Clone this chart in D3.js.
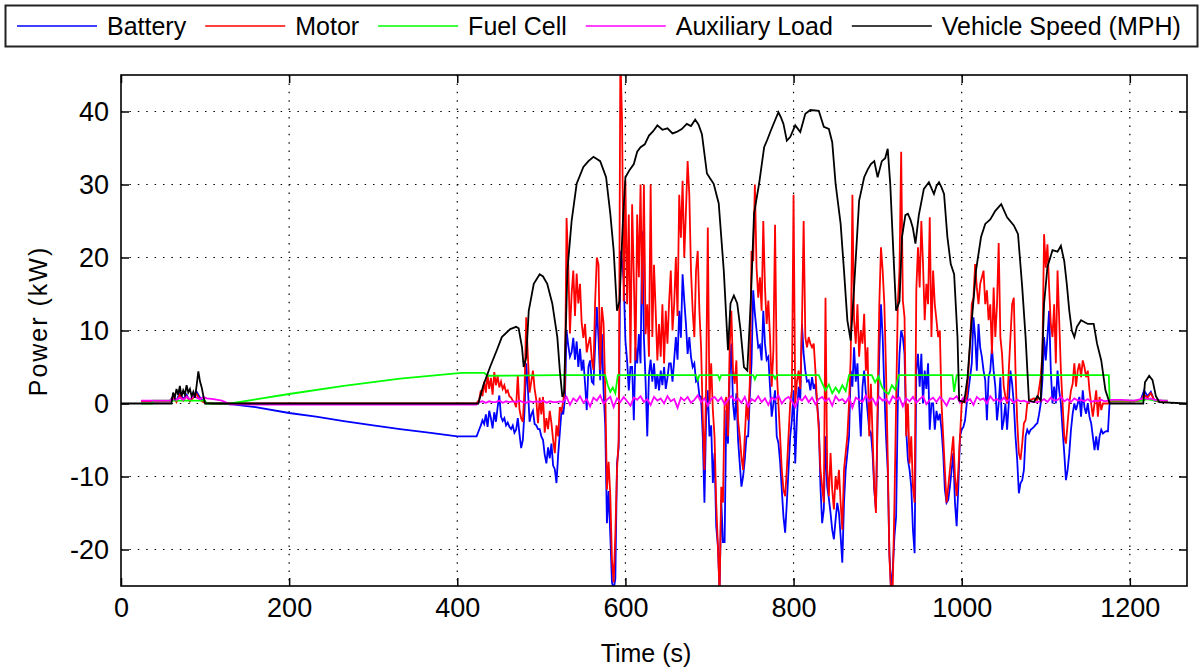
<!DOCTYPE html>
<html>
<head>
<meta charset="utf-8" />
<script src="https://cdn.jsdelivr.net/npm/d3@7"></script>
<style>
  body { margin: 0; background: #fff; }
  text { font-family: "Liberation Sans", Arial, Helvetica, sans-serif; fill: #000; }
  .grid line { stroke: #000; stroke-width: 1.2; stroke-dasharray: 1.5,6.9; }
  .axis line { stroke: #000; stroke-width: 1.5; }
  .axis path { display: none; }
  .series { fill: none; stroke-width: 1.8; stroke-linejoin: miter; }
</style>
</head>
<body>
<script>
// ---- data (kW / mph against time in s) ----
var seriesNames = ["Battery", "Motor", "Fuel Cell", "Auxiliary Load", "Vehicle Speed (MPH)"];
var seriesColors = ["#0000ff", "#ff0000", "#00ff00", "#ff00ff", "#000000"];
var xTicks = [0, 200, 400, 600, 800, 1000, 1200];
var yTicks = [-20, -10, 0, 10, 20, 30, 40];

// start-up section
var earlyTime = [24, 38, 58, 62, 66, 70, 74, 78, 82, 86, 90, 94, 98, 102, 110, 120, 130];
var earlyMotor = [0.3, 0.3, 0.3, 0.9, 0.2, 1.2, 0.4, 1.0, 0.3, 0.8, 1.3, 0.5, 0.2, 0.1, 0.0, 0.0, 0.0];
var earlyBattery = [0.3, 0.3, 0.3, 1.0, 0.4, 1.5, 0.6, 1.2, 0.3, 1.0, 1.6, 0.8, 0.3, 0.1, 0.0, 0.0, -0.1];
var earlyAux = [0.4, 0.4, 0.4, 0.6, 0.5, 0.8, 0.5, 0.9, 0.6, 1.0, 0.8, 0.6, 0.9, 0.7, 0.6, 0.4, -0.1];

// idle section, battery charging the fuel cell ramp
var idleTime = [160, 200, 232, 265, 300, 332, 366, 400, 423];
var idleMotor = [0, 0, 0, 0, 0, 0, 0, 0, 0];
var idleBattery = [-0.5, -1.3, -1.8, -2.4, -3.0, -3.5, -4.0, -4.5, -4.5];
var idleAux = [-0.15, -0.15, -0.15, -0.15, -0.15, -0.15, -0.15, -0.15, -0.15];

// driving section, every 2 s from 426 s
var activeMotor = [
  0.5, 1.8, 1.0, 3.0, 1.5, 4.0, 2.0, 3.5, 1.2, 4.3,          // 426
  2.5, 3.8, 2.2, 3.0, 2.0, 2.5, 1.5, 1.8, 1.0, 0.8,          // 446
  0.4, 0.2, -0.5, 3.9, -0.8, -2.0, -2.5, 2.0, 11.8, 6.4,     // 466
  1.5, 3.0, 4.5, 2.0, 0.5, -2.7, 0.8, -1.5, 0.9, -4.0,       // 486
  -2.0, -3.5, -1.0, -2.7, -5.0, -6.8, -3.0, -4.5, -0.5, -1.0, // 506
  0.3, 2.0, 25.4, 19.0, 9.6, 15.0, 18.2, 12.0, 17.8, 13.7,   // 526
  16.4, 11.0, 9.0, 10.9, 7.0, 8.2, 9.1, 6.0, 4.6, 14.0,      // 546
  20.0, 19.0, 4.6,                                           // 566
  13.2, 11.0, 2.0, -11.8, -8.0, -12.5, -21.4, -24.5, -18.0, -9.0, // 572
  -5.0, 48, 38.6, 14.0, 30.5, 13.6, 25.9, 5.5, 27.3, 17.3,   // 592
  5.9, 25.9, 17.3, 30.0, 13.6, 30.0, 9.5, 13.6, 6.4, 30.0,   // 612
  9.1, 19.0, 12.7, 5.9, 10.9, 6.4, 13.6, 5.5, 12.7, 8.2,     // 632
  14.0, 18.2, 10.0, 13.6, 20.0, 12.0, 28.6, 22.7, 30.5, 20.0, // 652
  26.4, 33.2, 28.6, 18.2, 12.7, 9.1, 18.2, 20.9, 12.7, 7.7,  // 672
  -1.8, -9.1, 2.7, 24.1, 0.0, 5.5, -0.9, -4.5, -13.6, -19.5, // 692
  -26, -11.4, -13.6, 0.0, 0.9, -4.5, 7.7, 12.7, 4.5, 2.7,    // 712
  5.9, -2.3, -4.5, -7.3, -9.1, -4.5, 0.0, -2.3, 3.0, 20.9,   // 732
  19.5, 30.0, 18.6, 14.5, 17.3, 12.7, 25.0, 15.9, 10.9, 14.1, // 752
  9.1, 2.3, 7.3, 24.5, 4.5, 0.0, -4.5, -9.1, -11.8, -12.7,   // 772
  -9.1, -4.5, 0.0, 1.8, 28.6,                                // 792
  0.0, 3.0, 4.5, 2.0, 10.9, 25.0, 9.1, 7.7, 9.1, 8.2,        // 802
  7.7, 8.2, 4.5, 0.0, -3.6, -9.1, -11.4, -13.6, 14.5, -9.1,  // 822
  -12.7, -6.8, -11.8, -14.5, -10.0, -11.8, -9.1, -13.6, -17.3, -9.1, // 842
  -6.8, -4.5, 0.0, 6.4, 28.6, 11.4, 8.2, 13.6, 6.4, 10.0,    // 862
  8.2, 12.3, 4.5, 7.7, -4.5, 2.7, -4.5, -11.4, -15.0, 0.0,   // 882
  13.6, 21.4, 18.2, 13.6, 4.5, -7.3, -20.9, -26, -25, -13.6, // 902
  0.0, 13.6, 18.2, 34.5, 14.1, 11.8, -4.5, 0.0, -8.2, -4.5,  // 922
  -11.4, -13.6, 15.5, 21.4, 15.9, 25.0, 19.1, 11.4, 16.4, 13.6, // 942
  25.5, 9.1, 18.2, 13.6, 11.4, 9.1, 10.0, 0.0, -4.5, -9.1,   // 962
  -13.6, -11.4, -9.1, -6.8, -4.5, -10.0, -12.7, -9.1, -4.5, 0.0, // 982
  0.5, 0.2, 0.9, 4.5, 8.2, 13.6, 14.5, 19.1, 15.9, 13.6,     // 1002
  16.4, 17.3, 18.2, 13.6, 15.5, 11.4, 13.6,                  // 1022
  6.8, 15.9, 9.1, 13.6, 22.0, 9.1, 6.8, 2.3, 0.9, 0.0,       // 1036
  4.5, 9.1, 13.6, 14.5, 4.5, -2.3, -6.8, -7.7, -5.5, -2.7,   // 1056
  -2.3, 0.0, 0.2, 0.5, 0.6, 0.7, 0.5, 0.5, 2.0, 3.6,         // 1076
  6.8, 23.2, 18.6, 21.8, 15.9, 10.9, 9.1, 13.6, 5.5, 18.2,   // 1096
  11.4, 4.5, 0.0, -4.5, -5.5, -2.7, 0.0, 1.8, 2.7, 5.5,      // 1116
  2.3, 4.5, 5.5, 3.6, 5.9, 5.0, 3.6, 4.5, 1.8, 0.0,          // 1136
  -1.8, 0.0, 1.8, -1.8, 0.9, -0.9, 0.0, 0.0, 0.0, 0.0,       // 1156
  0.3                                                        // 1176
];
var activeBattery = [
  -3.6, -3.0, -2.3, -2.8, -1.5, -3.2, -1.0, -2.0, -3.4, -1.2, // 426
  -2.5, -0.5, 1.1, -1.8, -2.4, -2.0, -3.0, -2.6, -3.2, -3.5,  // 446
  -3.0, -4.0, -3.6, -2.0, -4.2, -6.1, -5.0, -1.0, 5.5, 2.0,   // 466
  -2.5, -1.5, -1.0, -2.8, -3.0, -3.5, -3.5, -4.5, -5.0, -7.0, // 486
  -8.2, -6.0, -7.5, -5.5, -8.5, -9.0, -10.9, -7.0, -4.0, -0.9, // 506
  -1.5, 0.5, 10.0, 8.0, 6.4, 7.0, 9.0, 6.0, 8.5, 5.0,         // 526
  7.5, 4.5, 6.0, 2.7, -0.9, 5.0, 5.9, 3.0, 2.7, 8.0,          // 546
  13.2, 9.0, 3.2,                                             // 566
  9.5, 1.8, -3.0, -16.4, -12.0, -18.0, -24.5, -25.5, -24.0, -8.2, // 572
  -6.0, 20.9, 19.5, 16.8, 8.6, 5.9, 1.8, 5.0, 5.0, -2.3,      // 592
  7.7, 5.5, 9.5, 5.5, 23.6, 9.0, 3.0, -4.5, 4.0, 6.0,         // 612
  3.0, 5.5, 2.0, 4.0, 1.8, 4.5, 2.5, 5.0, 2.0, 3.5,           // 632
  5.5, 5.5, 3.0, 6.0, 9.1, 6.0, 12.7, 9.0, 17.7, 14.1,        // 652
  10.9, 6.8, 9.1, 6.4, 5.0, 5.5, 3.0, 3.2, 1.0, 0.9,          // 672
  -4.5, -13.6, -1.8, 1.8, -4.5, -3.0, -10.9, -6.8, -16.8, -19.5, // 692
  -25.5, -13.2, -19.0, -19.0, -0.9, -5.5, 3.6, 8.2, 0.0, -2.3, // 712
  1.4, -5.0, -8.2, -11.4, -10.0, -7.7, -4.5, -4.5, 1.0, 5.5,  // 732
  15.5, 12.3, 10.0, 7.7, 8.0, 5.9, 12.7, 8.2, 6.0, 6.4,       // 752
  2.3, -1.8, 0.0, 1.8, -4.5, -5.4, -8.0, -11.8, -15.5, -17.7, // 772
  -13.6, -9.1, -4.5, -2.3, 1.8,                               // 792
  -8.2, -2.0, 2.3, 0.5, 10.9, 6.8, 4.5, 3.0, 3.2, 1.8,        // 802
  3.6, 2.0, 2.7, 0.0, -2.7, -11.4, -16.4, -14.5, -4.5, -11.4, // 822
  -13.0, -15.0, -17.3, -18.6, -15.9, -13.6, -15.0, -18.2, -21.8, -13.6, // 842
  -9.1, -6.8, -4.5, 4.5, 2.3, 7.7, 3.0, 5.5, 0.0, -4.5,       // 862
  2.3, 4.5, 1.4, -1.0, -3.6, -4.0, -6.8, -11.8, -14.5, -2.3,  // 882
  6.8, 13.6, 9.1, 1.8, -4.5, -9.1, -20.5, -25.5, -22.7, -18.2, // 902
  -15.5, 0.0, 6.8, 10.0, 9.1, 6.8, -3.6, -7.7, -9.1, -11.4,   // 922
  -17.3, -20.5, 4.5, 6.8, 2.3, 6.8, 0.0, 4.5, 2.0, 5.5,       // 942
  -3.6, 0.0, 0.0, -3.6, -1.0, -2.3, -1.4, -3.6, -6.8, -11.8,  // 962
  -13.6, -13.2, -11.4, -9.1, -6.8, -13.6, -16.8, -11.4, -4.5, -3.6, // 982
  -3.2, -2.3, 0.0, 1.8, 3.6, 5.5, 11.8, 9.1, 4.5, 10.9,       // 1002
  7.7, 6.4, 4.5, 3.2, -2.3, 3.6, 4.5,                         // 1022
  7.7, 4.5, 2.3, -2.3, 0.0, 3.6, -3.6, -2.3, 0.0, -3.6,       // 1036
  0.0, 4.5, 2.7, 0.0, -4.5, -7.7, -12.3, -10.9, -10.5, -9.1,  // 1056
  -4.5, -3.6, -4.1, -3.6, -3.4, -3.2, -2.9, -2.7, -1.5, 0.0,  // 1076
  3.2, 9.1, 5.9, 9.1, 12.7, 4.5, 0.0, 2.3, 0.0, 4.5,          // 1096
  1.8, 0.0, -3.6, -6.8, -10.5, -9.1, -6.8, -3.6, -1.4, 0.0,   // 1116
  -0.9, 0.0, 0.9, -1.8, 1.8, -0.5, -1.4, 0.0, -1.8, -2.7,     // 1136
  -4.5, -6.4, -4.5, -6.4, -4.5, -3.6, -4.1, -3.9, -3.8, -3.8, // 1156
  0.3                                                         // 1176
];
// auxiliary load while driving, every 4 s from 426 s
var activeAux = [
  0.2, 0.3, 0.1, 0.3, 0.2, 0.2, 0.4, 0.1, 0.3, 0.2, 0.3, 0.2, 0.4,
  0.2, 0.1, 0.3, 0.2, 0.3, 0.2, 0.4, 0.1, 0.3, 0.2, 0.2, 0.3, 0.2,
  0.9, -0.2, 0.7, 0.3, 1.0, 0.1, 0.6, -0.4, 0.8, 0.4,
  1.1, 0.0, 0.5, 0.9, -0.5, 0.7, 0.2, 0.9, 0.3, -0.3,
  0.8, 0.5, 1.0, 0.2, 0.6, -0.2, 0.9, 0.4, 0.7, 0.0,
  1.0, 0.3, 0.6, -0.6, 0.8, 0.4, 0.9, 0.1, 0.5, 1.1,
  0.2, 0.7, -0.3, 0.6, 0.9, 0.3, 0.8, -0.1, 0.5, 1.0,
  0.4, 0.7, 0.1, 0.9, -0.4, 0.6, 0.3, 1.0, 0.2, 0.7,
  -0.2, 0.8, 0.5, 1.1, 0.0, 0.6, 0.9, 0.3, -0.5, 0.7,
  0.4, 1.0, 0.2, 0.8, -0.1, 0.6, 0.9, 0.3, 0.7, -0.3,
  1.0, 0.4, 0.6, 0.1, 0.9, -0.6, 0.8, 0.5, 0.2, 1.1,
  0.3, 0.7, -0.2, 0.9, 0.4, 0.6, 0.0, 1.0, 0.5, 0.8,
  -0.4, 0.7, 0.3, 0.9, 0.1, 0.6, 1.0, -0.1, 0.5, 0.8,
  0.2, 0.9, 0.4, -0.3, 0.7, 0.6, 1.0, 0.1, 0.8, 0.3,
  0.6, -0.2, 0.9, 0.5, 0.7, 0.0, 1.0, 0.4, 0.6, 0.2,
  0.8, 0.3, 0.6, 0.1, 0.5, 0.3, 0.4,
  0.2, 0.3, 0.2, 0.2, 0.3,
  0.6, 0.2, 0.8, 0.4, 0.5, 0.9, 0.3, 0.6, 0.2, 0.7,
  0.4, 0.5, 0.3, 0.6, 0.2, 0.4, 0.3, 0.5, 0.3, 0.4
];

// shut-down section
var lateTime = [1178, 1190, 1205, 1213, 1217, 1221, 1225, 1229, 1233, 1240, 1245];
var lateMotor = [0.3, 0.3, 0.3, 0.4, 1.2, 0.8, 1.4, 0.5, 0.3, 0.3, 0.3];
var lateBattery = [0.3, 0.3, 0.3, 0.5, 1.8, 1.0, 1.6, 0.4, 0.3, 0.3, 0.3];
var lateAux = [0.5, 0.5, 0.4, 0.6, 0.8, 0.6, 0.7, 0.5, 0.5, 0.4, 0.4];

var fuelCellTime = [24, 37, 38, 100, 101, 130, 200, 265, 332, 405, 432, 436,
  520, 576, 579, 582, 585, 588, 591, 684, 686, 688, 710, 712, 714, 752, 754, 756,
  776, 778, 780, 830, 834, 838, 842, 846, 850, 854, 858, 862, 866,
  893, 897, 901, 905, 909, 913, 917, 921, 925, 989, 991, 994, 1175, 1176,
  1215, 1220, 1230, 1245];
var fuelCellPower = [0, 0, 0.4, 0.4, 0, 0, 1.3, 2.4, 3.4, 4.2, 4.2, 3.8,
  3.9, 3.9, 2.5, 1.6, 2.2, 1.4, 3.9, 3.9, 3.2, 3.9, 3.9, 3.3, 3.9, 3.9, 3.3, 3.9,
  3.9, 3.4, 3.9, 3.9, 2.8, 1.8, 2.6, 1.4, 2.2, 1.5, 2.5, 1.7, 3.9,
  3.9, 2.9, 3.7, 2.3, 1.6, 1.3, 2.5, 1.9, 3.9, 3.9, 1.6, 3.9, 3.9, 0.4,
  0.4, 0.6, 0.4, 0.4];

var speedTime = [0, 60, 62, 64, 66, 68, 70, 72, 74, 76,
  78, 80, 82, 84, 86, 88, 90, 92, 94, 96,
  98, 100, 425, 431, 439, 447, 453, 463, 470, 473,
  477, 479, 482, 485, 491, 498, 502, 507, 513, 519,
  522, 525, 527, 531, 536, 542, 550, 556, 562, 570,
  577, 582, 586, 590, 593, 597, 600, 605, 610, 614,
  618, 623, 628, 633, 638, 644, 650, 656, 661, 667,
  673, 678, 683, 687, 691, 697, 701, 705, 711, 717,
  722, 725, 729, 733, 737, 741, 745, 749, 753, 759,
  765, 769, 773, 778, 782, 785, 788, 792, 796, 802,
  808, 814, 820, 830, 836, 842, 846, 850, 856, 860,
  864, 868, 872, 878, 884, 888, 892, 896, 900, 905,
  909, 912, 915, 919, 922, 926, 929, 933, 936, 939,
  942, 945, 949, 955, 961, 967, 970, 973, 976, 979,
  983, 987, 991, 995, 997, 1003, 1007, 1011, 1017, 1023,
  1028, 1034, 1040, 1047, 1054, 1062, 1067, 1072, 1076, 1080,
  1086, 1090, 1094, 1098, 1102, 1108, 1114, 1118, 1122, 1125,
  1128, 1131, 1134, 1137, 1142, 1150, 1157, 1161, 1166, 1171,
  1175, 1176, 1216, 1218, 1223, 1227, 1231, 1235, 1268];
var speedMph = [0, 0, 1.5, 0.8, 2.0, 1.2, 2.4, 1.0, 1.8, 1.2,
  2.5, 1.5, 2.0, 1.0, 1.6, 0.8, 2.5, 4.4, 3.0, 2.2,
  1.0, 0, 0, 2.5, 5.0, 7.3, 9.1, 10.2, 10.5, 10.3,
  7.7, 5.0, 6.3, 12.7, 16.4, 17.7, 17.4, 16.4, 13.7, 9.1,
  4.5, 0.9, 1.5, 18.2, 25, 30.1, 32.4, 33.2, 33.8, 33.2,
  31, 26, 21, 12.7, 14, 25, 31, 32.0, 32.8, 34.5,
  35.1, 35.5, 36.7, 37.3, 38.1, 37.5, 37.7, 37.0, 37.2, 37.6,
  38.3, 38.0, 38.9, 38.2, 36.9, 31.5, 30.8, 30.1, 27.4, 18.2,
  7.3, 13.7, 14.8, 13.7, 10, 5, 4.5, 13.7, 26, 30.1,
  35.1, 36.2, 37.4, 38.8, 39.9, 39.2, 38.3, 36.0, 36.5, 38.1,
  37.2, 39.7, 40.2, 40.1, 37.9, 37.6, 35.8, 30.1, 24.6, 18.2,
  11.4, 8.6, 15.9, 27.8, 31, 32.0, 32.8, 33.2, 31, 33.2,
  33.6, 34.9, 30.1, 20, 12.7, 14, 22.8, 25.8, 26.0, 25.2,
  24.0, 21.9, 25.8, 29.4, 30.3, 28.7, 29.8, 30.3, 29.6, 28.7,
  22.8, 19.1, 17.7, 9.1, 0.4, 0.2, 3.6, 10, 18.2, 22.8,
  24.6, 25.2, 26.4, 27.3, 25.5, 24.4, 23.2, 15.9, 9.1, 0.4,
  0.2, 1.0, 0.4, 13.7, 18.7, 21, 20.8, 21.6, 19.5, 16.4,
  12.7, 10, 9.1, 10.5, 11.4, 10.9, 10.9, 8.2, 5.9, 1.8,
  0.4, 0, 0, 2.9, 3.8, 3.2, 1.0, 0.2, 0];

// ---- assemble series ----
var activeTime = d3.range(426, 426 + 2 * activeMotor.length, 2);
var auxActiveTime = d3.range(426, 426 + 4 * activeAux.length, 4);
var powerTime = earlyTime.concat(idleTime, activeTime, lateTime);
var auxTime = earlyTime.concat(idleTime, auxActiveTime, lateTime);

function pairs(ts, vs) {
  return ts.map(function (t, i) { return [t, vs[i]]; })
    .filter(function (d) { return d[1] != null; });
}

var series = [
  pairs(powerTime, earlyBattery.concat(idleBattery, activeBattery, lateBattery)),
  pairs(powerTime, earlyMotor.concat(idleMotor, activeMotor, lateMotor)),
  pairs(fuelCellTime, fuelCellPower),
  pairs(auxTime, earlyAux.concat(idleAux, activeAux, lateAux)),
  pairs(speedTime, speedMph)
];

// ---- layout ----
var width = 1204, height = 669;
var plotLeft = 121, plotRight = 1187, plotTop = 75, plotBottom = 586;

var x = d3.scaleLinear().domain([0, 1268]).range([plotLeft, plotRight]);
var y = d3.scaleLinear().domain([-25, 45]).range([plotBottom, plotTop]);

var svg = d3.select("body").append("svg")
  .attr("width", width)
  .attr("height", height)
  .style("display", "block");

svg.append("rect").attr("width", width).attr("height", height).attr("fill", "#fff");

svg.append("clipPath").attr("id", "plotClip")
  .append("rect")
  .attr("x", plotLeft).attr("y", plotTop)
  .attr("width", plotRight - plotLeft).attr("height", plotBottom - plotTop);

// grid
var grid = svg.append("g").attr("class", "grid");
grid.selectAll(".vg").data(xTicks.filter(function (d) { return d > 0; }))
  .enter().append("line")
  .attr("x1", function (d) { return x(d); }).attr("x2", function (d) { return x(d); })
  .attr("y1", plotTop).attr("y2", plotBottom);
grid.selectAll(".hg").data(yTicks)
  .enter().append("line")
  .attr("x1", plotLeft).attr("x2", plotRight)
  .attr("y1", function (d) { return y(d); }).attr("y2", function (d) { return y(d); });

// lines
var line = d3.line()
  .x(function (d) { return x(d[0]); })
  .y(function (d) { return y(d[1]); });

svg.append("g").attr("clip-path", "url(#plotClip)")
  .selectAll("path")
  .data(series)
  .enter().append("path")
  .attr("class", "series")
  .attr("stroke", function (d, i) { return seriesColors[i]; })
  .attr("d", line);

// axes, ticks pointing inward on all four sides
var fontSize = 27;
var plain = function (d) { return String(d); };
svg.append("g").attr("class", "axis")
  .attr("transform", "translate(0," + plotBottom + ")")
  .call(d3.axisBottom(x).tickValues(xTicks).tickSize(-8).tickPadding(12).tickFormat(plain));
svg.append("g").attr("class", "axis")
  .attr("transform", "translate(0," + plotTop + ")")
  .call(d3.axisTop(x).tickValues(xTicks).tickSize(-8).tickFormat(""));
svg.append("g").attr("class", "axis")
  .attr("transform", "translate(" + plotLeft + ",0)")
  .call(d3.axisLeft(y).tickValues(yTicks).tickSize(-8).tickPadding(12).tickFormat(plain));
svg.append("g").attr("class", "axis")
  .attr("transform", "translate(" + plotRight + ",0)")
  .call(d3.axisRight(y).tickValues(yTicks).tickSize(-8).tickFormat(""));
svg.selectAll(".axis")
  .attr("font-family", null)
  .attr("font-size", null);
svg.selectAll(".axis text")
  .attr("fill", null)
  .style("font-size", fontSize + "px");

svg.append("rect")
  .attr("x", plotLeft).attr("y", plotTop)
  .attr("width", plotRight - plotLeft).attr("height", plotBottom - plotTop)
  .attr("fill", "none").attr("stroke", "#000").attr("stroke-width", 1.6);

svg.append("text")
  .attr("x", 646).attr("y", 662)
  .attr("text-anchor", "middle")
  .style("font-size", "25px")
  .text("Time (s)");

svg.append("text")
  .attr("transform", "translate(47,321) rotate(-90)")
  .attr("text-anchor", "middle")
  .style("font-size", "25px")
  .style("letter-spacing", "2px")
  .text("Power (kW)");

// legend
var legend = svg.append("g");
legend.append("rect")
  .attr("x", 5.5).attr("y", 5.5)
  .attr("width", 1192).attr("height", 41)
  .attr("fill", "#fff").attr("stroke", "#222").attr("stroke-width", 2);

var lx = 17;
seriesNames.forEach(function (name, i) {
  legend.append("line")
    .attr("x1", lx).attr("x2", lx + 80)
    .attr("y1", 26).attr("y2", 26)
    .attr("stroke", seriesColors[i]).attr("stroke-width", 1.5);
  var t = legend.append("text")
    .attr("x", lx + 90).attr("y", 35)
    .style("font-size", "25px")
    .text(name);
  lx += 90 + t.node().getComputedTextLength() + 19;
});
</script>
</body>
</html>
